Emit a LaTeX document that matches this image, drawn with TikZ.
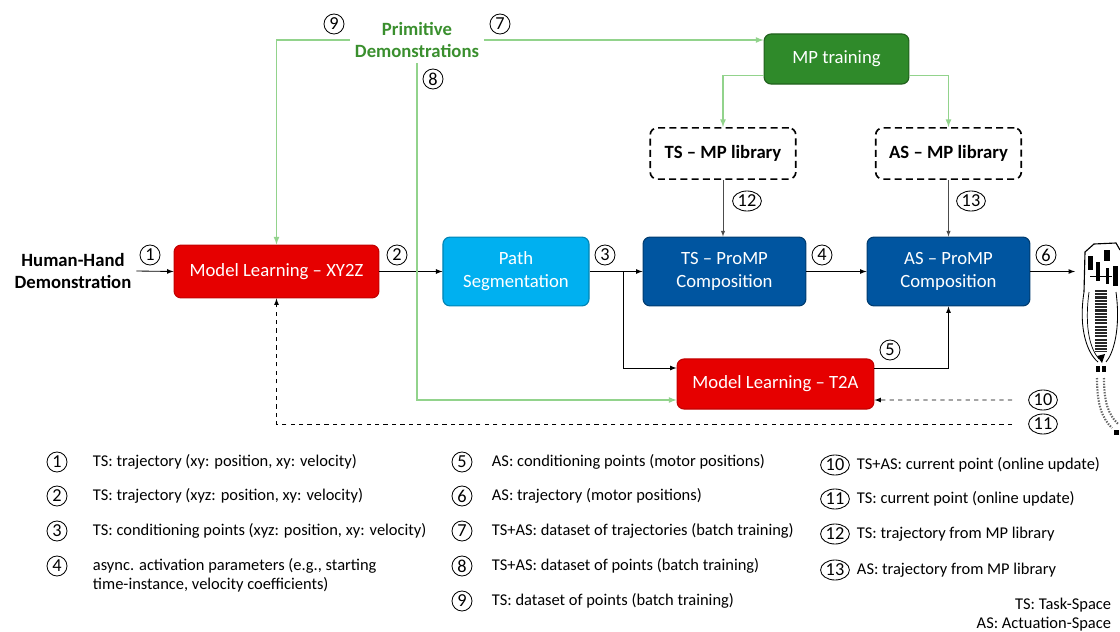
\documentclass[tikz,border=0pt]{standalone}
\usepackage{fontspec}
\setmainfont{Carlito}
\usetikzlibrary{shapes.geometric}
\definecolor{boxred}{HTML}{E60000}
\definecolor{lightblue}{HTML}{00B0F0}
\definecolor{darkblue}{HTML}{0055A0}
\definecolor{mpgreen}{HTML}{2F8A2A}
\definecolor{linegreen}{HTML}{92D38C}
\definecolor{textgreen}{HTML}{3A8F2E}

\tikzset{
  block/.style={rounded corners=5pt, draw, line width=0.8pt, text=white, align=center,
    font=\fontsize{13.3}{16.3}\selectfont},
  redbox/.style={block, fill=boxred, draw=boxred!85!black},
  bluebox/.style={block, fill=lightblue, draw=lightblue!75!black},
  navybox/.style={block, fill=darkblue, draw=darkblue!70!black},
  greenbox/.style={block, fill=mpgreen, draw=mpgreen!70!black},
  libbox/.style={rounded corners=5pt, draw, line width=1.2pt, dash pattern=on 5pt off 3pt,
    align=center, font=\fontsize{13.3}{16.3}\selectfont\bfseries,
    minimum width=3.64cm, minimum height=1.28cm},
  cnum/.style={circle, draw, line width=0.6pt, inner sep=0pt, minimum size=0.5cm,
    font=\fontsize{13}{13}\selectfont},
  cnumw/.style={ellipse, draw, line width=0.6pt, inner sep=0pt, minimum width=0.72cm,
    minimum height=0.5cm, font=\fontsize{13}{13}\selectfont},
  legend/.style={anchor=west, align=left, font=\fontsize{11.7}{13.5}\selectfont},
  garrow/.style={-latex, line width=0.9pt, linegreen},
}

\begin{document}
\begin{tikzpicture}[x=0.025cm, y=-0.025cm]
\useasboundingbox (0,0) rectangle (1120,632);

% blocks
\node[redbox, minimum width=5.12cm, minimum height=1.32cm] (xyz) at (276.5,271.5) {Model Learning – XY2Z};
\node[bluebox, minimum width=3.65cm, minimum height=1.72cm] (seg) at (516,271.5) {Path\\Segmentation};
\node[navybox, minimum width=4.07cm, minimum height=1.72cm] (tspro) at (724.5,271.5) {TS – ProMP\\Composition};
\node[navybox, minimum width=4.07cm, minimum height=1.72cm] (aspro) at (948.5,271.5) {AS – ProMP\\Composition};
\node[redbox, minimum width=4.92cm, minimum height=1.25cm] (tta) at (775.5,384) {Model Learning – T2A};
\node[greenbox, minimum width=3.62cm, minimum height=1.25cm] (mptrain) at (836.5,59) {MP training};
\node[libbox] (tslib) at (723,153.5) {TS – MP library};
\node[libbox] (aslib) at (948.5,153.5) {AS – MP library};

\node[align=center, font=\fontsize{13.3}{16.3}\selectfont\bfseries] (human) at (73,271) {Human-Hand\\Demonstration};
\node[align=center, text=textgreen, font=\fontsize{13.3}{16.3}\selectfont\bfseries] (prim) at (417,40) {Primitive\\Demonstrations};

\coordinate (split) at (623,271.5);
\coordinate (robot) at (1075,271.5);
\coordinate (cur1) at (1012,400);
\coordinate (cur2) at (1012,424);

% main flow
\draw[-latex, semithick] (human.east) -- (xyz.west);
\draw[-latex, semithick] (xyz.east) -- (seg.west);
\draw[-latex, semithick] (seg.east) -- (tspro.west);
\draw[-latex, semithick] (tspro.east) -- (aspro.west);
\draw[-latex, semithick] (aspro.east) -- (robot);
\draw[-latex, semithick] (split) |- ([yshift=0.4cm]tta.west);
\draw[-latex, semithick] ([yshift=0.4cm]tta.east) -| (aspro.south);
\draw[-latex, thin, black!70] (tslib.south) -- (tslib.south |- tspro.north);
\draw[-latex, thin, black!70] (aslib.south) -- (aslib.south |- aspro.north);

% feedback
\draw[-latex, semithick, dashed] (cur1) -- ([yshift=-0.4cm]tta.east);
\draw[-latex, semithick, dashed] (cur2) -| (xyz.south);

% demonstrations
\draw[garrow] (prim.west) -| (xyz.north);
\draw[garrow] (prim.east) -- (prim.east -| mptrain.west);
\draw[garrow] (prim.south) |- ([yshift=-0.4cm]tta.west);
\draw[garrow] ([yshift=-0.42cm]mptrain.west) -| (tslib.north);
\draw[garrow] ([yshift=-0.42cm]mptrain.east) -| (aslib.north);

% numbers on the flow
\node[cnum] at (150,255) {1};
\node[cnum] at (397,255) {2};
\node[cnum] at (605,255) {3};
\node[cnum] at (822,255) {4};
\node[cnum] at (890,350) {5};
\node[cnum] at (1046,255) {6};
\node[cnum] at (500,24) {7};
\node[cnum] at (433,79) {8};
\node[cnum] at (334,24) {9};
\node[cnumw] at (1043,400) {10};
\node[cnumw] at (1043,424) {11};
\node[cnumw] at (747,201) {12};
\node[cnumw] at (971,201) {13};

% robot
\draw[line width=0.8pt] (1084,292) -- (1085,252) -- (1094,244) -- (1116,243) -- (1120,250);
\fill (1088,256) rectangle (1093,270);
\fill (1096,262) rectangle (1100,281);
\fill (1104,250) rectangle (1110,261);
\fill (1106,268) rectangle (1109,284);
\fill (1113,266) rectangle (1118,286);
\draw[line width=0.5pt] (1090,276) -- (1112,276);
\draw[line width=0.6pt] (1084,292) .. controls (1078,330) and (1088,354) .. (1098,362);
\draw[line width=0.5pt] (1089,292) .. controls (1084,330) and (1091,350) .. (1099,359);
\draw[line width=0.6pt] (1116,292) .. controls (1121,330) and (1113,354) .. (1106,362);
\draw[line width=8pt, black!85, dash pattern=on 1.5pt off 0.8pt] (1101,290) -- (1101,352);
\fill (1097,356) -- (1105,354) -- (1102,363) -- cycle;
\fill (1096,366) rectangle (1100,372);
\fill (1102,366) rectangle (1106,372);
\draw[line width=1.5pt, black!60, dash pattern=on 1pt off 1pt] (1097,378) .. controls (1097,405) and (1102,418) .. (1112,428);
\draw[line width=1.5pt, black!60, dash pattern=on 1pt off 1pt] (1104,378) .. controls (1104,402) and (1108,414) .. (1118,424);
\fill (1114,430) rectangle (1119,435);

% legend
\node[cnum] at (57,462) {1};
\node[legend] at (88,462) {TS: trajectory (xy: position, xy: velocity)};
\node[cnum] at (57,496) {2};
\node[legend] at (88,496) {TS: trajectory (xyz: position, xy: velocity)};
\node[cnum] at (57,531) {3};
\node[legend] at (88,531) {TS: conditioning points (xyz: position, xy: velocity)};
\node[cnum] at (57,566) {4};
\node[legend] at (88,575.5) {async. activation parameters (e.g., starting\\time-instance, velocity coefficients)};

\node[cnum] at (462,462) {5};
\node[legend] at (487,462) {AS: conditioning points (motor positions)};
\node[cnum] at (462,496) {6};
\node[legend] at (487,496) {AS: trajectory (motor positions)};
\node[cnum] at (462,531) {7};
\node[legend] at (487,531) {TS+AS: dataset of trajectories (batch training)};
\node[cnum] at (462,566) {8};
\node[legend] at (487,566) {TS+AS: dataset of points (batch training)};
\node[cnum] at (462,601) {9};
\node[legend] at (487,601) {TS: dataset of points (batch training)};

\node[cnumw] at (835,465) {10};
\node[legend] at (852,465) {TS+AS: current point (online update)};
\node[cnumw] at (835,499) {11};
\node[legend] at (852,499) {TS: current point (online update)};
\node[cnumw] at (835,534) {12};
\node[legend] at (852,534) {TS: trajectory from MP library};
\node[cnumw] at (835,570) {13};
\node[legend] at (852,570) {AS: trajectory from MP library};

\node[legend, anchor=east, align=right] at (1116,614.5) {TS: Task-Space\\AS: Actuation-Space};
\end{tikzpicture}
\end{document}
